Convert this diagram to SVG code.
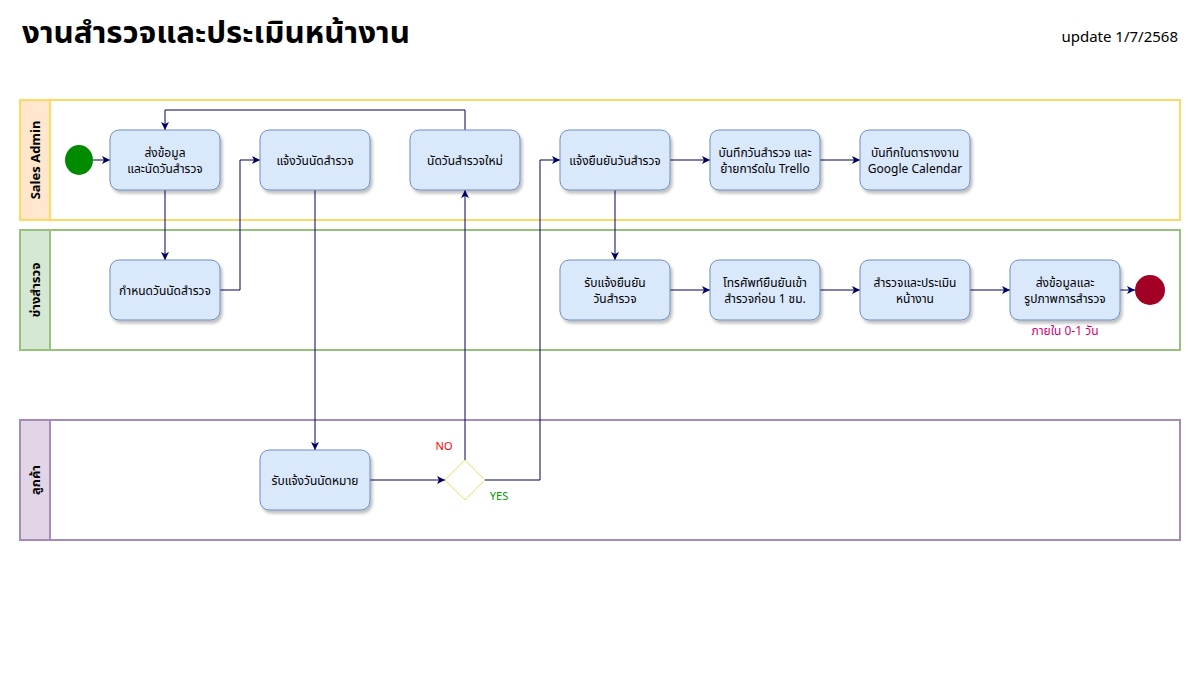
<svg xmlns="http://www.w3.org/2000/svg" width="1200" height="700" viewBox="0 0 1200 700">
<style>
text{font-family:"Noto Sans","Noto Sans Thai","Liberation Sans",sans-serif;fill:#000}
.n rect{fill:#dae8fc;stroke:#6c8ebf;stroke-width:1;filter:url(#sh)}
.n text{font-size:12px;text-anchor:middle}
.c{fill:none;stroke:#000066;stroke-width:1;marker-end:url(#a)}
.lh{font-size:13px;font-weight:bold;text-anchor:middle}
</style>
<defs>
<marker id="a" viewBox="0 0 10 10" refX="10" refY="5" markerWidth="8" markerHeight="8" markerUnits="userSpaceOnUse" orient="auto"><path d="M0,0 L10,5 L0,10 L2.5,5 Z" fill="#000066"/></marker>
<filter id="sh" x="-10%" y="-10%" width="130%" height="130%"><feDropShadow dx="2" dy="3" stdDeviation="1.5" flood-color="#000" flood-opacity="0.25"/></filter>
</defs>
<rect width="1200" height="700" fill="#fff"/>
<text x="22" y="43" font-size="30" font-weight="bold" textLength="388" lengthAdjust="spacingAndGlyphs">งานสำรวจและประเมินหน้างาน</text>
<text x="1178" y="42" font-size="15" text-anchor="end">update 1/7/2568</text>

<g id="lane-sales">
<rect x="20" y="100" width="1160" height="120" fill="#fff" stroke="#ffd966" stroke-width="2"/>
<rect x="20" y="100" width="30" height="120" fill="#ffe6cc" stroke="#ffd966" stroke-width="2"/>
<text class="lh" transform="translate(40,160) rotate(-90)">Sales Admin</text>
</g>
<g id="lane-tech">
<rect x="20" y="230" width="1160" height="120" fill="#fff" stroke="#97c27d" stroke-width="2"/>
<rect x="20" y="230" width="30" height="120" fill="#d5e8d4" stroke="#97c27d" stroke-width="2"/>
<text class="lh" transform="translate(40,290) rotate(-90)">ช่างสำรวจ</text>
</g>
<g id="lane-cust">
<rect x="20" y="420" width="1160" height="120" fill="#fff" stroke="#a58bb5" stroke-width="2"/>
<rect x="20" y="420" width="30" height="120" fill="#e1d5e7" stroke="#a58bb5" stroke-width="2"/>
<text class="lh" transform="translate(40,480) rotate(-90)">ลูกค้า</text>
</g>

<g id="connectors">
<path class="c" d="M93,160 H110"/>
<path class="c" d="M165,190 V260"/>
<path class="c" d="M220,290 H240 V160 H260"/>
<path class="c" d="M315,190 V450"/>
<path class="c" d="M465,130 V110 H165 V130"/>
<path class="c" d="M465,460 V190"/>
<path class="c" d="M370,480 H445"/>
<path class="c" d="M485,480 H540 V160 H560"/>
<path class="c" d="M670,160 H710"/>
<path class="c" d="M820,160 H860"/>
<path class="c" d="M615,190 V260"/>
<path class="c" d="M670,290 H710"/>
<path class="c" d="M820,290 H860"/>
<path class="c" d="M970,290 H1010"/>
<path class="c" d="M1120,290 H1135"/>
<text x="444" y="450" font-size="11" text-anchor="middle" style="fill:#ff0000">NO</text>
<text x="499" y="500" font-size="11" text-anchor="middle" style="fill:#009900">YES</text>
<text x="1065" y="335" font-size="12" text-anchor="middle" style="fill:#d6006f">ภายใน 0-1 วัน</text>
</g>

<g id="start"><ellipse cx="79" cy="160" rx="14" ry="15" fill="#008a00"/></g>
<g id="end"><ellipse cx="1150" cy="290" rx="15" ry="15" fill="#a20025"/></g>
<g id="decision"><path d="M465,460 L485,480 L465,500 L445,480 Z" fill="#fff" stroke="#ffd966" stroke-width="1"/></g>

<g id="n1" class="n"><rect x="110" y="130" width="110" height="60" rx="9"/><text x="165" y="157">ส่งข้อมูล</text><text x="165" y="173">และนัดวันสำรวจ</text></g>
<g id="n2" class="n"><rect x="260" y="130" width="110" height="60" rx="9"/><text x="315" y="165">แจ้งวันนัดสำรวจ</text></g>
<g id="n3" class="n"><rect x="410" y="130" width="110" height="60" rx="9"/><text x="465" y="165">นัดวันสำรวจใหม่</text></g>
<g id="n4" class="n"><rect x="560" y="130" width="110" height="60" rx="9"/><text x="615" y="165">แจ้งยืนยันวันสำรวจ</text></g>
<g id="n5" class="n"><rect x="710" y="130" width="110" height="60" rx="9"/><text x="765" y="157">บันทึกวันสำรวจ และ</text><text x="765" y="173">ย้ายการ์ดใน Trello</text></g>
<g id="n6" class="n"><rect x="860" y="130" width="110" height="60" rx="9"/><text x="915" y="157">บันทึกในตารางงาน</text><text x="915" y="173">Google Calendar</text></g>
<g id="n7" class="n"><rect x="110" y="260" width="110" height="60" rx="9"/><text x="165" y="295">กำหนดวันนัดสำรวจ</text></g>
<g id="n8" class="n"><rect x="560" y="260" width="110" height="60" rx="9"/><text x="615" y="287">รับแจ้งยืนยัน</text><text x="615" y="303">วันสำรวจ</text></g>
<g id="n9" class="n"><rect x="710" y="260" width="110" height="60" rx="9"/><text x="765" y="287">โทรศัพท์ยืนยันเข้า</text><text x="765" y="303">สำรวจก่อน 1 ชม.</text></g>
<g id="n10" class="n"><rect x="860" y="260" width="110" height="60" rx="9"/><text x="915" y="287">สำรวจและประเมิน</text><text x="915" y="303">หน้างาน</text></g>
<g id="n11" class="n"><rect x="1010" y="260" width="110" height="60" rx="9"/><text x="1065" y="287">ส่งข้อมูลและ</text><text x="1065" y="303">รูปภาพการสำรวจ</text></g>
<g id="n12" class="n"><rect x="260" y="450" width="110" height="60" rx="9"/><text x="315" y="485">รับแจ้งวันนัดหมาย</text></g>
</svg>
